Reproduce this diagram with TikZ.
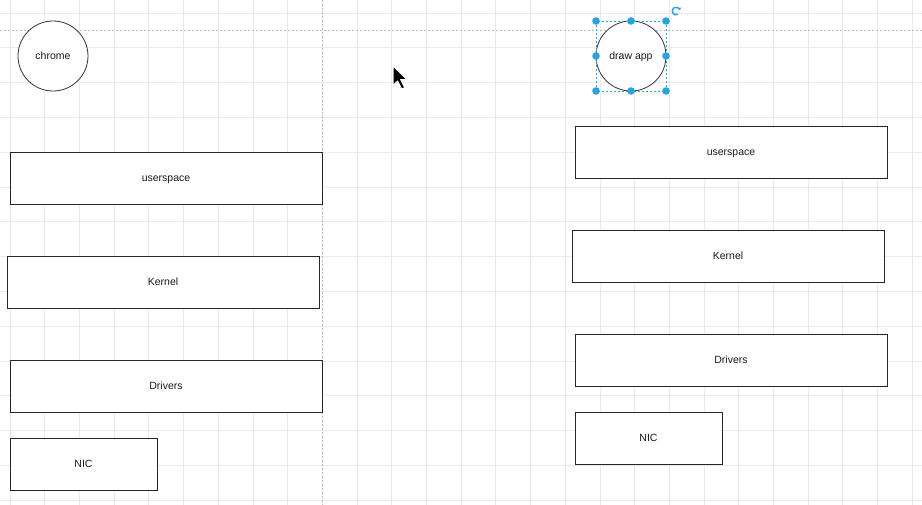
\documentclass[tikz,border=0pt]{standalone}
\usepackage{fontspec}
\setmainfont{Liberation Sans}
\usepackage{xcolor}
\usetikzlibrary{positioning,arrows.meta}

\definecolor{handleblue}{RGB}{41,163,224}
\definecolor{gridgray}{RGB}{234,234,234}
\definecolor{pagegray}{RGB}{190,190,190}

\begin{document}
\begin{tikzpicture}
[x=1pt,y=-1pt,node distance=104pt,on grid,
 every node/.style={font=\fontsize{10.5}{12}\selectfont,text=black!90,
                    text height=7.6pt,text depth=0pt},
 layer/.style={draw=black!85,line width=0.9pt,fill=white,rectangle,
               minimum width=312pt,minimum height=52pt,inner sep=0pt},
 small layer/.style={layer,minimum width=147pt},
 proc/.style={draw=black!80,line width=0.8pt,fill=white,circle,
              minimum size=70pt,inner sep=0pt},
 gridline/.style={gridgray,line width=0.8pt},
 pageline/.style={pagegray,line width=0.7pt,dash pattern=on 2pt off 2pt},
 selbox/.style={handleblue,line width=0.6pt,dash pattern=on 2pt off 2pt},
 handle/.style={fill=handleblue,draw=none,circle,minimum size=7pt,inner sep=0pt}]

\fill[white] (0,0) rectangle (922,505);
\useasboundingbox (0,0) rectangle (922,505);

% grid and page borders
\foreach \i in {0,...,26}
  \draw[gridline] ({10+34.7*\i},0) -- ++(0,505);
\foreach \j in {0,...,14}
  \draw[gridline] (0,{13+34.8*\j}) -- ++(922,0);
\draw[pageline] (322,0) -- (322,505);
\draw[pageline] (0,30) -- (922,30);

% left stack
\node [proc] (chrome) at (53,56) {chrome};
\node [layer] (userL) at (166,178) {userspace};
\node [layer] (kernelL) [below=of userL,xshift=-3pt] {Kernel};
\node [layer] (driversL) [below=of kernelL,xshift=3pt] {Drivers};
\node [small layer] (nicL) [below=78pt of driversL,xshift=-82.5pt] {NIC};

% right stack
\node [proc] (drawapp) at (631,56) {draw app};
\node [layer] (userR) at (731,152) {userspace};
\node [layer] (kernelR) [below=of userR,xshift=-3pt] {Kernel};
\node [layer] (driversR) [below=of kernelR,xshift=3pt] {Drivers};
\node [small layer] (nicR) [below=78pt of driversR,xshift=-82.5pt] {NIC};

% selection of draw app
\draw[selbox] ([shift={(-35,-35)}]drawapp.center) rectangle ([shift={(35,35)}]drawapp.center);
\foreach \dx/\dy in {-35/-35,0/-35,35/-35,-35/0,35/0,-35/35,0/35,35/35}
  \node[handle] at ([shift={(\dx,\dy)}]drawapp.center) {};
\coordinate (rot) at (676,11);
\draw[handleblue,line width=1.5pt,-{Stealth[length=2.8pt,width=4pt]}]
  ([shift={(60:3.8)}]rot) arc[start angle=60,end angle=350,radius=3.8];

% mouse pointer
\coordinate (tip) at (393,66);
\filldraw[fill=black,draw=white,line width=0.9pt,line join=round,
          scale around={1.15:(tip)}]
  (tip) -- ++(0,17) -- ++(4,-4) -- ++(3.5,7) -- ++(2.5,-1.2) -- ++(-3.5,-7) -- ++(5.5,0) -- cycle;
\end{tikzpicture}
\end{document}
